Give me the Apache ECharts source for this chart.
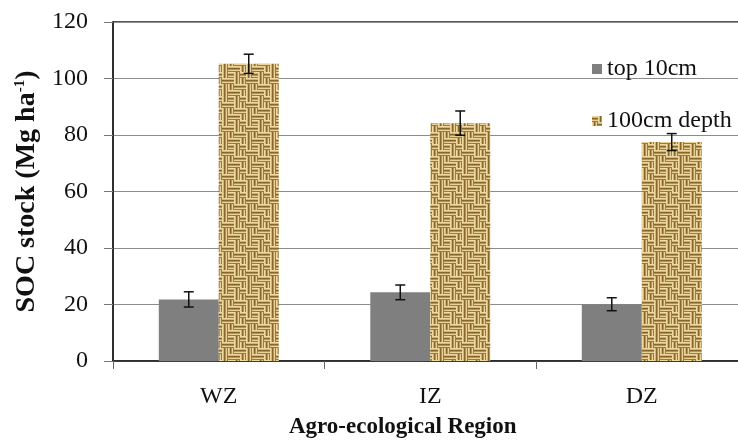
<!DOCTYPE html>
<html>
<head>
<meta charset="utf-8">
<script src="https://cdn.jsdelivr.net/npm/echarts@6/dist/echarts.min.js"></script>
<style>
html,body{margin:0;padding:0;background:#fff;}
#chart{width:738px;height:447px;}
</style>
</head>
<body>
<div id="chart"></div>
<script>
// ---- data ----
var categories = ['WZ', 'IZ', 'DZ'];
var seriesNames = ['top 10cm', '100cm depth'];
var top10 = [21.8, 24.3, 20.1];
var top10Err = [2.7, 2.6, 2.3];
var depth100 = [105.2, 84.2, 77.5];
var depth100Err = [3.4, 4.3, 3.0];
var yTicks = [0, 20, 40, 60, 80, 100, 120];

// ---- burlap-like weave texture (fixed tile layout) ----
var weaveLayout = [
  [0, 1, 0, 1],
  [1, 0, 0, 1],
  [0, 1, 1, 0],
  [1, 1, 0, 0]
];
function makeTexture() {
  var c = document.createElement('canvas');
  c.width = 24; c.height = 24;
  var ctx = c.getContext('2d');
  var stripes = ['#ecd8a0', '#d2b676', '#8a6528', '#b8944f', '#e8d299', '#9c7a38'];
  for (var by = 0; by < 4; by++) {
    for (var bx = 0; bx < 4; bx++) {
      var x0 = bx * 6, y0 = by * 6;
      var horiz = weaveLayout[by][bx] === 0;
      for (var k = 0; k < 6; k++) {
        ctx.fillStyle = stripes[k];
        if (horiz) ctx.fillRect(x0, y0 + k, 6, 1);
        else ctx.fillRect(x0 + k, y0, 1, 6);
      }
    }
  }
  return c;
}
var tex = makeTexture();

var catGapPct = 43.3;
function errorSeries(vals, errs, side) {
  var data = vals.map(function (v, i) { return [i, v, errs[i]]; });
  return {
    type: 'custom',
    z: 10,
    silent: true,
    data: data,
    renderItem: function (params, api) {
      var cat = api.value(0), v = api.value(1), e = api.value(2);
      var catW = api.size([1, 0])[0];
      var barW = catW * (1 - catGapPct / 100) / 2;
      var x = api.coord([cat, v])[0] + side * barW / 2;
      var yt = api.coord([cat, v + e])[1];
      var yb = api.coord([cat, v - e])[1];
      var hw = 5;
      var st = { stroke: '#111', lineWidth: 1.5 };
      return {
        type: 'group',
        children: [
          { type: 'line', shape: { x1: x, y1: yt, x2: x, y2: yb }, style: st },
          { type: 'line', shape: { x1: x - hw, y1: yt, x2: x + hw, y2: yt }, style: st },
          { type: 'line', shape: { x1: x - hw, y1: yb, x2: x + hw, y2: yb }, style: st }
        ]
      };
    }
  };
}

var serif = "'Liberation Serif', 'Times New Roman', serif";
var chart = echarts.init(document.getElementById('chart'), null, { renderer: 'canvas' });
chart.setOption({
  animation: false,
  backgroundColor: '#fff',
  grid: {
    left: 113, top: 22, right: -9.5, bottom: 86,
    containLabel: false,
    outerBoundsMode: 'none',
    show: true, borderColor: '#222', borderWidth: 1.5, backgroundColor: 'transparent'
  },
  legend: {
    data: seriesNames,
    orient: 'vertical',
    left: 587, top: 52,
    itemWidth: 10, itemHeight: 10, itemGap: 28,
    textStyle: { fontFamily: serif, fontSize: 24, color: '#111', lineHeight: 22 },
    icon: 'rect'
  },
  xAxis: {
    type: 'category',
    data: categories,
    name: 'Agro-ecological Region',
    nameLocation: 'middle',
    nameGap: 55,
    nameTextStyle: { fontFamily: serif, fontSize: 23, fontWeight: 'bold', color: '#111', padding: [0, 55, 0, 0] },
    axisLine: { lineStyle: { color: '#222', width: 1.5 } },
    axisTick: { show: true, length: 8, lineStyle: { color: '#666' } },
    axisLabel: { fontFamily: serif, fontSize: 24, color: '#111', margin: 24 }
  },
  yAxis: {
    type: 'value',
    min: 0, max: 120, interval: 20,
    name: '{a|SOC stock (Mg ha}{s|-1}{a|)}',
    nameLocation: 'middle',
    nameGap: 71,
    nameTextStyle: {
      rich: {
        a: { fontFamily: serif, fontSize: 28, fontWeight: 'bold', color: '#111' },
        s: { fontFamily: serif, fontSize: 15, fontWeight: 'bold', color: '#111', verticalAlign: 'top', padding: [0, 0, 12, 0] }
      }
    },
    axisLine: { show: true, lineStyle: { color: '#222', width: 1.5 } },
    axisTick: { show: true, length: 9, lineStyle: { color: '#777' } },
    axisLabel: {
      fontFamily: serif, fontSize: 24, color: '#111', margin: 25,
      formatter: function (v) { return yTicks.indexOf(v) >= 0 ? String(v) : ''; }
    },
    splitLine: { lineStyle: { color: '#8c8c8c', width: 1 } }
  },
  series: [
    {
      name: seriesNames[0], type: 'bar', data: top10,
      barGap: '0%', barCategoryGap: catGapPct + '%',
      itemStyle: { color: '#7f7f7f' }
    },
    {
      name: seriesNames[1], type: 'bar', data: depth100,
      barGap: '0%', barCategoryGap: catGapPct + '%',
      itemStyle: { color: { image: tex, repeat: 'repeat' } }
    },
    errorSeries(top10, top10Err, -1),
    errorSeries(depth100, depth100Err, 1)
  ]
});
</script>
</body>
</html>
